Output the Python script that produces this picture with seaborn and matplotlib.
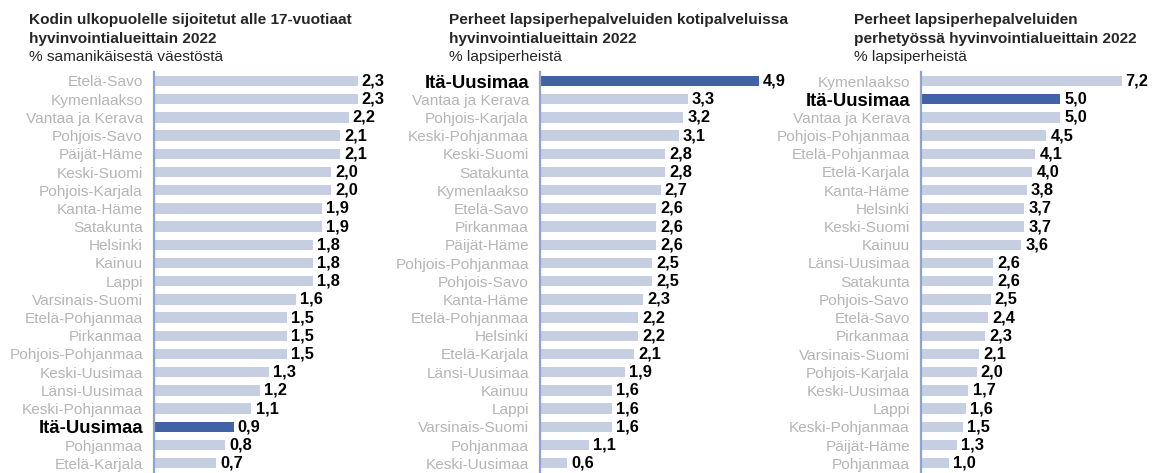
import matplotlib
matplotlib.use("Agg")
import matplotlib.pyplot as plt
import seaborn as sns
import pandas as pd

sns.set_theme(style="white")
plt.rcParams['font.family'] = ['Liberation Sans', 'DejaVu Sans']

HIGHLIGHT = "Itä-Uusimaa"

titles1 = ["Kodin ulkopuolelle sijoitetut alle 17-vuotiaat", "hyvinvointialueittain 2022"]
sub1 = "% samanikäisestä väestöstä"
cats1 = ["Etelä-Savo", "Kymenlaakso", "Vantaa ja Kerava", "Pohjois-Savo", "Päijät-Häme",
         "Keski-Suomi", "Pohjois-Karjala", "Kanta-Häme", "Satakunta", "Helsinki", "Kainuu",
         "Lappi", "Varsinais-Suomi", "Etelä-Pohjanmaa", "Pirkanmaa", "Pohjois-Pohjanmaa",
         "Keski-Uusimaa", "Länsi-Uusimaa", "Keski-Pohjanmaa", "Itä-Uusimaa", "Pohjanmaa",
         "Etelä-Karjala"]
vals1 = [2.3, 2.3, 2.2, 2.1, 2.1, 2.0, 2.0, 1.9, 1.9, 1.8, 1.8, 1.8, 1.6, 1.5, 1.5, 1.5,
         1.3, 1.2, 1.1, 0.9, 0.8, 0.7]

titles2 = ["Perheet lapsiperhepalveluiden kotipalveluissa", "hyvinvointialueittain 2022"]
sub2 = "% lapsiperheistä"
cats2 = ["Itä-Uusimaa", "Vantaa ja Kerava", "Pohjois-Karjala", "Keski-Pohjanmaa", "Keski-Suomi",
         "Satakunta", "Kymenlaakso", "Etelä-Savo", "Pirkanmaa", "Päijät-Häme",
         "Pohjois-Pohjanmaa", "Pohjois-Savo", "Kanta-Häme", "Etelä-Pohjanmaa", "Helsinki",
         "Etelä-Karjala", "Länsi-Uusimaa", "Kainuu", "Lappi", "Varsinais-Suomi", "Pohjanmaa",
         "Keski-Uusimaa"]
vals2 = [4.9, 3.3, 3.2, 3.1, 2.8, 2.8, 2.7, 2.6, 2.6, 2.6, 2.5, 2.5, 2.3, 2.2, 2.2, 2.1,
         1.9, 1.6, 1.6, 1.6, 1.1, 0.6]

titles3 = ["Perheet lapsiperhepalveluiden", "perhetyössä hyvinvointialueittain 2022"]
sub3 = "% lapsiperheistä"
cats3 = ["Kymenlaakso", "Itä-Uusimaa", "Vantaa ja Kerava", "Pohjois-Pohjanmaa",
         "Etelä-Pohjanmaa", "Etelä-Karjala", "Kanta-Häme", "Helsinki", "Keski-Suomi", "Kainuu",
         "Länsi-Uusimaa", "Satakunta", "Pohjois-Savo", "Etelä-Savo", "Pirkanmaa",
         "Varsinais-Suomi", "Pohjois-Karjala", "Keski-Uusimaa", "Lappi", "Keski-Pohjanmaa",
         "Päijät-Häme", "Pohjanmaa"]
vals3 = [7.2, 5.0, 5.0, 4.5, 4.1, 4.0, 3.8, 3.7, 3.7, 3.6, 2.6, 2.6, 2.5, 2.4, 2.3, 2.1,
         2.0, 1.7, 1.6, 1.5, 1.3, 1.0]

W, H = 1155, 473
fig = plt.figure(figsize=(W / 100, H / 100), dpi=100)

C_LIGHT = "#c6cfe1"
C_DARK = "#4262a6"
C_AXIS = "#8fa3d1"
C_LABEL = "#b5b5b5"

# (axis x px, px per unit, xmax, title x px)
panels = [
    (titles1, sub1, cats1, vals1, 154, 88.5, 2.6, 29),
    (titles2, sub2, cats2, vals2, 540, 44.7, 5.5, 449),
    (titles3, sub3, cats3, vals3, 921, 27.85, 8.2, 854),
]

row = 18.2
top_c = 81
n = 22
ax_top = top_c - row / 2
ax_h = n * row

for titles, sub, cats, vals, x0, ppu, xmax, tx in panels:
    wpx = ppu * xmax
    ax = fig.add_axes([x0 / W, 1 - (ax_top + ax_h) / H, wpx / W, ax_h / H])
    df = pd.DataFrame({"region": cats, "value": vals})
    pal = {c: (C_DARK if c == HIGHLIGHT else C_LIGHT) for c in cats}
    sns.barplot(data=df, x="value", y="region", hue="region", palette=pal,
                legend=False, ax=ax, width=0.58, saturation=1, edgecolor="none")
    ax.set_xlim(0, xmax)
    ax.set_ylim(n - 0.5, -0.5)
    ax.set_xlabel("")
    ax.set_ylabel("")
    ax.set_xticks([])
    for s in ["top", "right", "bottom"]:
        ax.spines[s].set_visible(False)
    ax.spines["left"].set_color(C_AXIS)
    ax.spines["left"].set_linewidth(1.6)
    ax.tick_params(axis="y", length=0, pad=8)
    for lab in ax.get_yticklabels():
        if lab.get_text() == HIGHLIGHT:
            lab.set_color("black")
            lab.set_fontweight("bold")
            lab.set_fontsize(13.3)
        else:
            lab.set_color(C_LABEL)
            lab.set_fontsize(11.1)
    for i, v in enumerate(vals):
        ax.annotate(f"{v:.1f}".replace(".", ","), (v, i), xytext=(3, 0),
                    textcoords="offset points", va="center", ha="left",
                    fontsize=11.8, fontweight="bold", color="black", clip_on=False)
    fig.text(tx / W, 1 - 20 / H, titles[0], fontsize=11.1, fontweight="bold", va="center", ha="left")
    fig.text(tx / W, 1 - 38.5 / H, titles[1], fontsize=11.1, fontweight="bold", va="center", ha="left")
    fig.text(tx / W, 1 - 57 / H, sub, fontsize=11.1, va="center", ha="left")

fig.savefig("out.png", dpi=100, facecolor="white")
